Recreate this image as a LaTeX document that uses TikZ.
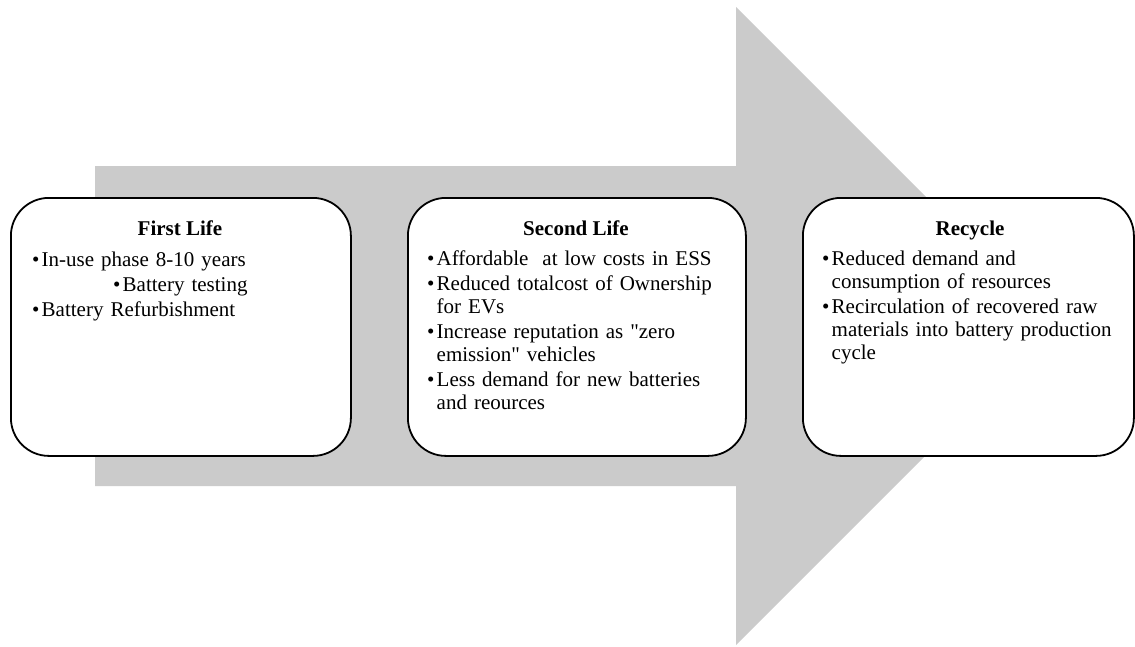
\documentclass[tikz,border=0pt]{standalone}
\usepackage{fontspec}
\setmainfont{Liberation Serif}
% one bulleted paragraph with a hanging indent
\newcommand\bulletline[1]{\hangindent=9.5pt\hangafter=1\noindent\makebox[9.5pt][l]{•}#1\par}
\begin{document}
\begin{tikzpicture}[x=1pt,y=-1pt,
  panel/.style={draw=black,line width=1.8pt,fill=white,rounded corners=38pt,
    rectangle,inner sep=0pt,anchor=north west},
  heading/.style={font=\fontsize{21}{23}\selectfont\bfseries,anchor=base,inner sep=0pt},
  body/.style={font=\fontsize{21}{23}\selectfont,anchor=base west,inner sep=0pt,
    text width=#1,align=left,execute at begin node={\setlength\parskip{2pt}}}]
\useasboundingbox (0,0) rectangle (1135,646);

% broad grey arrow behind the three stages
\fill[fill={rgb,255:red,203;green,203;blue,203}]
  (95,166) -- (736,166) -- (736,7) -- (1055,326) -- (736,645) -- (736,486) -- (95,486) -- cycle;

% stage panels
\node[panel,minimum width=340pt,minimum height=258pt] (first) at (10,197) {};
\node[panel,minimum width=338pt,minimum height=258pt] (second) at (407,197) {};
\node[panel,minimum width=331pt,minimum height=258pt] (recycle) at (802,197) {};

% headings
\node[heading] (firsttitle) at (180,235) {First Life};
\node[heading] (secondtitle) at (576,235) {Second Life};
\node[heading] (recycletitle) at (970,235) {Recycle};

% bullet lists
\node[body=310pt] (firsttext) at (32,266) {%
  \bulletline{In-use phase 8-10 years}
  \noindent\hspace*{81pt}\makebox[9.5pt][l]{•}Battery testing\par
  \bulletline{Battery Refurbishment}};

\node[body=300pt] (secondtext) at (427,265) {%
  \bulletline{Affordable\ \ at low costs in ESS}
  \bulletline{Reduced totalcost of Ownership\newline for EVs}
  \bulletline{Increase reputation as \textquotedbl zero\newline emission\textquotedbl\ vehicles}
  \bulletline{Less demand for new batteries\newline and reources}};

\node[body=298pt] (recycletext) at (822,265) {%
  \bulletline{Reduced demand and\newline consumption of resources}
  \bulletline{Recirculation of recovered raw\newline materials into battery production\newline cycle}};
\end{tikzpicture}
\end{document}
